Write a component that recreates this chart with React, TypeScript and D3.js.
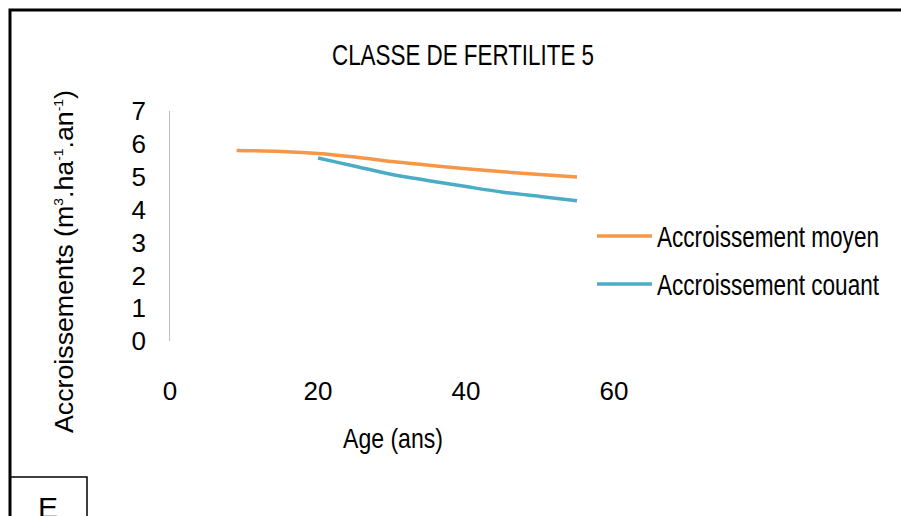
import * as d3 from "d3";

// données
const ageMoyen = [9, 15, 20, 25, 30, 35, 40, 45, 50, 55];
const moyen = [5.8, 5.77, 5.71, 5.6, 5.46, 5.35, 5.24, 5.15, 5.07, 4.99];
const ageCourant = [20, 25, 30, 35, 40, 45, 50, 55];
const courant = [5.57, 5.32, 5.07, 4.88, 4.7, 4.53, 4.4, 4.27];
const yTicks = [0, 1, 2, 3, 4, 5, 6, 7];
const xTicks = [0, 20, 40, 60];
const seriesNames = ["Accroissement moyen", "Accroissement couant"];
const colors = ["#F79646", "#4BACC6"];

const font = "'Liberation Sans', Arial, sans-serif";

const App = () => {
    const width = 901;
    const height = 516;
    const x = d3.scaleLinear([0, 60], [170, 614]);
    const y = d3.scaleLinear([0, 7], [341, 111]);

    const line = d3.line<[number, number]>()
        .x(d => x(d[0]))
        .y(d => y(d[1]))
        .curve(d3.curveMonotoneX);

    const series = [
        ageMoyen.map((a, i) => [a, moyen[i]] as [number, number]),
        ageCourant.map((a, i) => [a, courant[i]] as [number, number]),
    ];
    const legendY = [247, 295];

    return (
        <svg width={width} height={height} style={{position: "fixed", left: 0, top: 0, background: "white"}}
            fontFamily={font}>
            {/* cadre */}
            <rect x={10} y={10} width={width + 20} height={height + 20} fill="none" stroke="black" strokeWidth={3} />
            <rect x={10} y={477} width={77} height={60} fill="none" stroke="black" strokeWidth={1.5} />
            <text x={48} y={518} fontSize={30} textAnchor="middle">E</text>

            <text x={332} y={65} fontSize={30} textLength={262} lengthAdjust="spacingAndGlyphs">CLASSE DE FERTILITE 5</text>

            {/* axe Y */}
            <line x1={169.5} x2={169.5} y1={y(7)} y2={y(0)} stroke="#bfbfbf" strokeWidth={1} />
            {yTicks.map(t => (
                <text key={t} x={146} y={y(t) + 9.3} fontSize={26} textAnchor="end">{t}</text>
            ))}
            {xTicks.map(t => (
                <text key={t} x={x(t)} y={400} fontSize={26} textAnchor="middle">{t}</text>
            ))}

            <text x={343} y={448} fontSize={28} textLength={100} lengthAdjust="spacingAndGlyphs">Age (ans)</text>

            <text transform={`translate(73,433) rotate(-90)`} fontSize={25} textLength={343} lengthAdjust="spacingAndGlyphs">
                Accroissements (m<tspan fontSize={13} dy={-10}>3</tspan><tspan dy={10}>.ha</tspan>
                <tspan fontSize={13} dy={-10}>-1</tspan><tspan dy={10}>.an</tspan>
                <tspan fontSize={13} dy={-10}>-1</tspan><tspan dy={10}>)</tspan>
            </text>

            {series.map((s, i) => (
                <path key={i} d={line(s) ?? ""} fill="none" stroke={colors[i]} strokeWidth={3.5} />
            ))}

            {seriesNames.map((n, i) => (
                <g key={n}>
                    <line x1={597} x2={652} y1={legendY[i] - 11} y2={legendY[i] - 11} stroke={colors[i]} strokeWidth={3.5} />
                    <text x={657} y={legendY[i]} fontSize={30} textLength={222} lengthAdjust="spacingAndGlyphs">{n}</text>
                </g>
            ))}
        </svg>
    );
};

export default App;
